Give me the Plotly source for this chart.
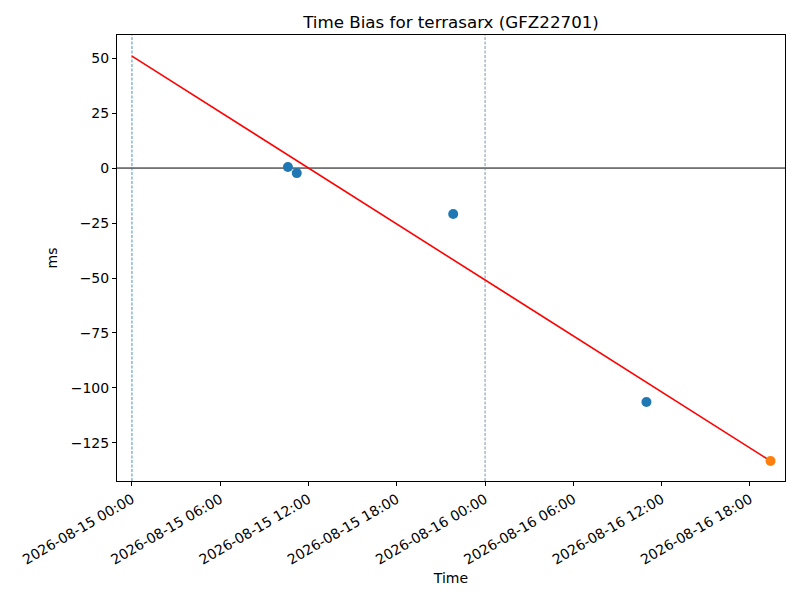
import plotly.graph_objects as go

obs_times = ["2026-08-15 10:36", "2026-08-15 11:12", "2026-08-15 21:50", "2026-08-16 10:58"]
obs_bias = [0.5, -2.3, -20.9, -106.4]
last_time = ["2026-08-16 19:24"]
last_bias = [-133.2]
fit_times = ["2026-08-15 00:00", "2026-08-16 19:24"]
fit_bias = [50.9, -133.2]
tick_vals = ["2026-08-15 00:00", "2026-08-15 06:00", "2026-08-15 12:00", "2026-08-15 18:00",
             "2026-08-16 00:00", "2026-08-16 06:00", "2026-08-16 12:00", "2026-08-16 18:00"]
tick_text = [t for t in tick_vals]
y_ticks = [50, 25, 0, -25, -50, -75, -100, -125]

fig = go.Figure()
fig.add_trace(go.Scatter(x=fit_times, y=fit_bias, mode="lines",
                         line=dict(color="red", width=1.6), showlegend=False))
fig.add_trace(go.Scatter(x=obs_times, y=obs_bias, mode="markers",
                         marker=dict(color="#1f77b4", size=10), showlegend=False))
fig.add_trace(go.Scatter(x=last_time, y=last_bias, mode="markers",
                         marker=dict(color="#ff7f0e", size=10), showlegend=False))

fig.add_hline(y=0, line=dict(color="black", width=1), opacity=1, layer="below")
fig.add_vline(x="2026-08-15 00:00", line=dict(color="#1f77b4", width=0.8, dash="3px,1.5px"),
              opacity=1, layer="below")
fig.add_vline(x="2026-08-16 00:00", line=dict(color="#5f7a94", width=0.8, dash="3px,1.5px"),
              opacity=1, layer="below")

fig.update_layout(
    width=800, height=600,
    margin=dict(l=109, r=23, t=27, b=127, autoexpand=False),
    plot_bgcolor="white", paper_bgcolor="white",
    font=dict(family="DejaVu Sans", size=14, color="black"),
    title=dict(text="Time Bias for terrasarx (GFZ22701)", x=0.5, xref="paper",
               y=1 - 14 / 600, yanchor="middle", font=dict(size=16.7)),
    xaxis=dict(
        range=["2026-08-14 22:59", "2026-08-16 20:23"],
        tickvals=tick_vals, ticktext=tick_text, tickangle=-30, automargin=False,
        showgrid=False, zeroline=False, showline=True, linecolor="black", linewidth=1,
        mirror=True, ticks="outside", ticklen=4, tickcolor="black",
        title=dict(text="Time", font=dict(size=14), standoff=6),
        tickfont=dict(size=14),
    ),
    yaxis=dict(
        range=[-142.3, 60.5], tickvals=y_ticks, automargin=False,
        showgrid=False, zeroline=False, showline=True, linecolor="black", linewidth=1,
        mirror=True, ticks="outside", ticklen=4, tickcolor="black",
        title=dict(text="ms", font=dict(size=14), standoff=9),
        tickfont=dict(size=14),
    ),
)
fig.write_html("out.html")
